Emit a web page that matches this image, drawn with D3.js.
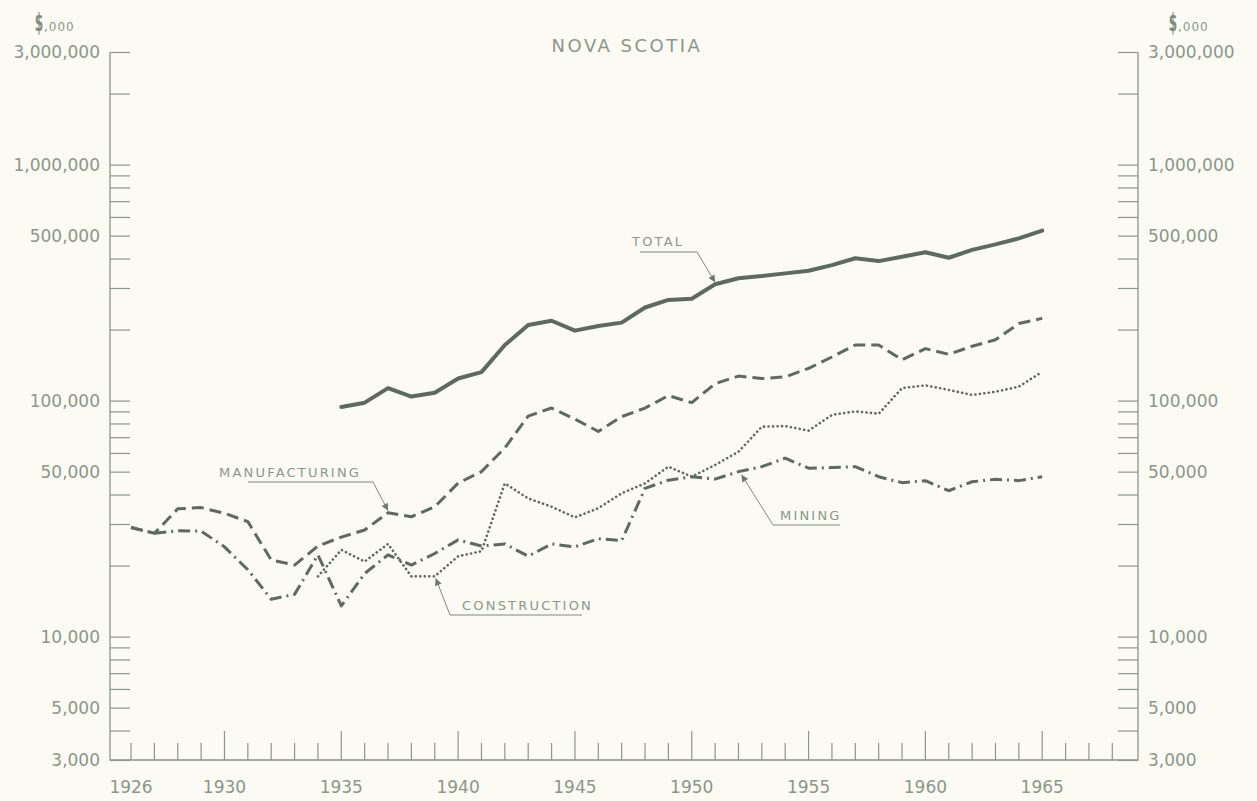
<!DOCTYPE html>
<html>
<head>
<meta charset="utf-8">
<script src="https://cdn.jsdelivr.net/npm/d3@7"></script>
<style>
  body { margin: 0; background: #fbfbf4; }
  text { font-family: "DejaVu Sans", sans-serif; fill: #8a978a; }
</style>
</head>
<body>
<div id="container"></div>
<script>
/*
 values, in $,000
 */
let years = d3.range(1926, 1966);
let totalYears = d3.range(1935, 1966);
let constructionYears = d3.range(1934, 1966);

let total = [94000, 98000, 113000, 104000, 108000, 124000, 132000, 172000, 209000, 218000,
    198000, 207000, 214000, 248000, 267000, 270000, 311000, 330000, 337000, 346000,
    355000, 375000, 401000, 390000, 407000, 425000, 403000, 435000, 459000, 487000, 525000];

let manufacturing = [29000, 27400, 34800, 35200, 33300, 30700, 21100, 20100, 24200, 26400,
    28300, 33500, 32200, 35500, 44700, 50000, 63000, 86000, 93000, 83500,
    74000, 85500, 93000, 105000, 98000, 118000, 127000, 124000, 126000, 137000,
    153000, 172000, 172000, 149000, 166000, 157000, 170000, 181000, 212000, 223000];

let construction = [18000, 23300, 20800, 24700, 18000, 18000, 21900, 23000, 44600, 38500,
    35500, 32000, 35000, 40500, 44600, 52500, 47600, 53400, 60700, 77500,
    78000, 74600, 87000, 90000, 88000, 113000, 116000, 111000, 105600, 109000, 114600, 132500];

let mining = [29000, 27400, 28100, 28000, 24000, 19200, 14400, 15100, 22200, 13500,
    18500, 22200, 20100, 22500, 25700, 24200, 24700, 21900, 24700, 24000,
    26000, 25500, 42500, 46000, 47600, 46500, 50000, 52500, 57000, 51700,
    52000, 52500, 47600, 44900, 45800, 41500, 45300, 46400, 45800, 47600];

let yLabelValues = [3000, 5000, 10000, 50000, 100000, 500000, 1000000, 3000000];
let xLabelYears = [1926, 1930, 1935, 1940, 1945, 1950, 1955, 1960, 1965];

let w = 1257;
let h = 801;
let pLeft = 110, pRight = 1138, pTop = 52, pBottom = 760;
let ink = "#8a978a";
let lineInk = "#5c6a5f";

let svg = d3.select("div#container").append("svg")
    .attr("width", w).attr("height", h)
    .style("background-color", "#fbfbf4");

let x = d3.scaleLinear().domain([1925.1, 1969.1]).range([pLeft, pRight]);
let y = d3.scaleLog().domain([3000, 3000000]).range([pBottom, pTop]);

/*
 frame: two vertical axes and the base line
 */
svg.append("path")
    .attr("d", `M${pLeft},${pTop}V${pBottom}H${pRight}V${pTop}`)
    .attr("fill", "none").attr("stroke", ink).attr("stroke-width", 1.3);

// log ticks 1..9 in each decade
let yTicks = [];
[1000, 10000, 100000, 1000000].forEach(d => {
    for (let k = 1; k <= 9; k++) {
        let v = d * k;
        if (v >= 3000 && v <= 3000000) yTicks.push(v);
    }
});
let fmt = d3.format(",");

let axL = d3.axisRight(y).tickValues(yTicks).tickSize(20).tickFormat("");
svg.append("g").attr("transform", `translate(${pLeft},0)`).call(axL)
    .call(g => g.select(".domain").remove())
    .call(g => g.selectAll("line").attr("stroke", ink).attr("stroke-width", 1.2));
let axR = d3.axisLeft(y).tickValues(yTicks).tickSize(20).tickFormat("");
svg.append("g").attr("transform", `translate(${pRight},0)`).call(axR)
    .call(g => g.select(".domain").remove())
    .call(g => g.selectAll("line").attr("stroke", ink).attr("stroke-width", 1.2));

svg.append("g").selectAll("text").data(yLabelValues).enter().append("text")
    .attr("x", pLeft - 10).attr("y", d => y(d)).attr("dy", "0.36em")
    .attr("text-anchor", "end").attr("font-size", 17)
    .text(d => fmt(d));
svg.append("g").selectAll("text").data(yLabelValues).enter().append("text")
    .attr("x", pRight + 10).attr("y", d => y(d)).attr("dy", "0.36em")
    .attr("text-anchor", "start").attr("font-size", 17)
    .text(d => fmt(d));

// x ticks, longer every five years
let xTicks = d3.range(1926, 1969);
svg.append("g").selectAll("line").data(xTicks).enter().append("line")
    .attr("x1", d => x(d)).attr("x2", d => x(d))
    .attr("y1", pBottom).attr("y2", d => pBottom - (d % 5 === 0 ? 29 : 17))
    .attr("stroke", ink).attr("stroke-width", 1.2);
svg.append("g").selectAll("text").data(xLabelYears).enter().append("text")
    .attr("x", d => x(d)).attr("y", pBottom + 33)
    .attr("text-anchor", "middle").attr("font-size", 17)
    .text(d => d);

// units header on both sides: narrow tall "$" then small ",000"
[[39, 44], [1173, 1178]].forEach(p => {
    svg.append("text")
        .attr("transform", `translate(${p[0]},31) scale(0.55,1.15)`)
        .attr("text-anchor", "middle")
        .attr("font-size", 22).attr("font-weight", "bold").style("fill", "#7d8a7d").text("$");
    svg.append("text").attr("x", p[1]).attr("y", 31)
        .attr("font-size", 12).attr("letter-spacing", 1).text(",000");
});

svg.append("text").attr("x", 627).attr("y", 52)
    .attr("text-anchor", "middle").attr("font-size", 18).attr("letter-spacing", 2.5)
    .text("NOVA SCOTIA");

/*
 the four series
 */
let line = d3.line().x(d => x(d[0])).y(d => y(d[1]));
let series = [
    {yrs: totalYears, vals: total, width: 4, dash: null, cap: "round"},
    {yrs: years, vals: manufacturing, width: 3, dash: "12,6", cap: "butt"},
    {yrs: constructionYears, vals: construction, width: 2.6, dash: "0.1,4.4", cap: "round"},
    {yrs: years, vals: mining, width: 3, dash: "12,5,2,5", cap: "butt"}
];
series.forEach(s => {
    svg.append("path")
        .datum(d3.zip(s.yrs, s.vals))
        .attr("d", line)
        .attr("fill", "none")
        .attr("stroke", lineInk)
        .attr("stroke-width", s.width)
        .attr("stroke-dasharray", s.dash)
        .attr("stroke-linecap", s.cap)
        .attr("stroke-linejoin", "round");
});

/*
 labels with leader lines and arrowheads
 */
svg.append("defs").append("marker")
    .attr("id", "arr").attr("viewBox", "0 0 10 10")
    .attr("refX", 10).attr("refY", 5)
    .attr("markerWidth", 10).attr("markerHeight", 7)
    .attr("markerUnits", "userSpaceOnUse")
    .attr("orient", "auto")
    .append("path").attr("d", "M0,0L10,5L0,10Z").attr("fill", "#6d7a6e");

let valueAt = (yrs, vals, yr) => vals[yrs.indexOf(yr)];
let notes = [
    {text: "TOTAL", tx: x(1951), ty: y(valueAt(totalYears, total, 1951)) - 2,
        lx: 632, ly: 246, path: [[640, 252], [697, 252]]},
    {text: "MANUFACTURING", tx: x(1937), ty: y(valueAt(years, manufacturing, 1937)) - 2,
        lx: 219, ly: 477, path: [[248, 482], [373, 482]]},
    {text: "CONSTRUCTION", tx: x(1939) + 1, ty: y(valueAt(constructionYears, construction, 1939)) + 2,
        lx: 462, ly: 610, path: [[582, 615], [450, 615]]},
    {text: "MINING", tx: x(1952) + 3, ty: y(valueAt(years, mining, 1952)) + 3,
        lx: 780, ly: 520, path: [[840, 525], [773, 525]]}
];
notes.forEach(n => {
    svg.append("text").attr("x", n.lx).attr("y", n.ly)
        .attr("font-size", 13).attr("letter-spacing", 2.2).text(n.text);
    let pts = n.path.concat([[n.tx, n.ty]]);
    svg.append("path")
        .attr("d", d3.line()(pts))
        .attr("fill", "none").attr("stroke", "#7d8a7e").attr("stroke-width", 1)
        .attr("marker-end", "url(#arr)");
});
</script>
</body>
</html>
